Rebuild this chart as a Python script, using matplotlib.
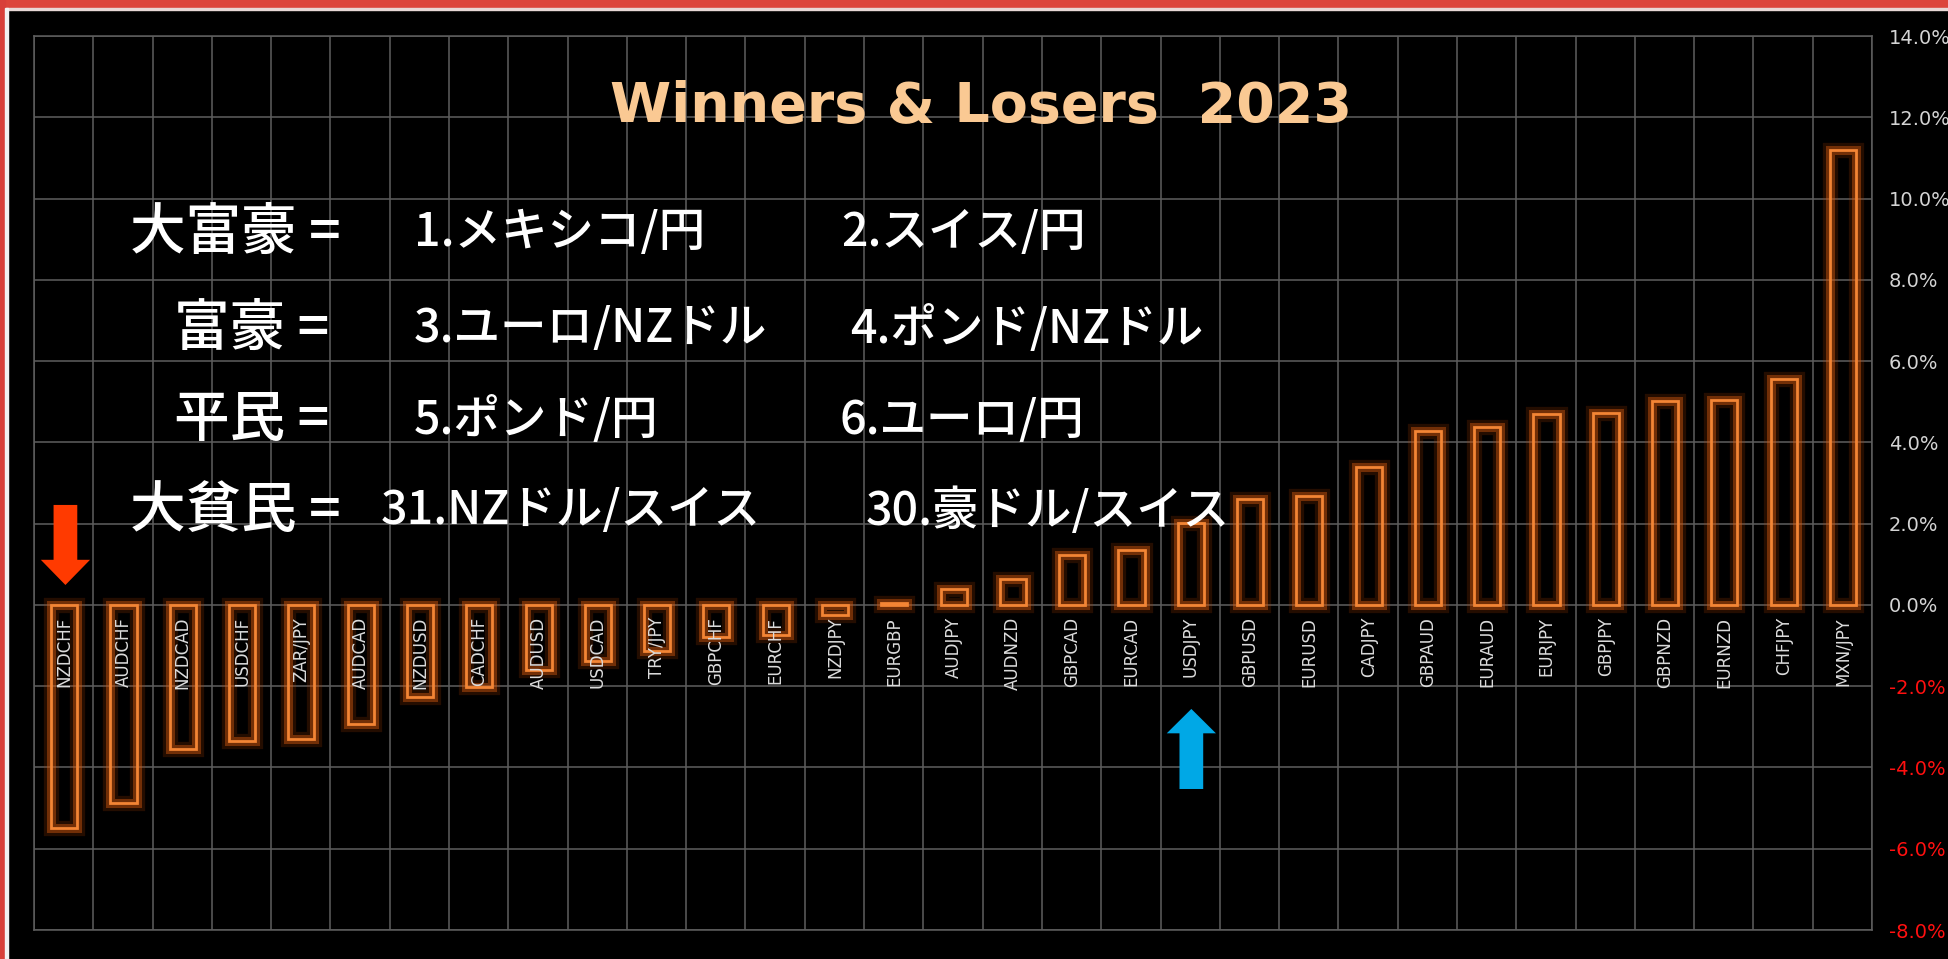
import matplotlib
matplotlib.use('Agg')
import matplotlib.pyplot as plt
import matplotlib.patheffects as pe
import matplotlib.transforms as mtransforms
from matplotlib.patches import Rectangle
import numpy as np

# %% data: 2023 yearly change per currency pair (%)
pairs = ['NZDCHF', 'AUDCHF', 'NZDCAD', 'USDCHF', 'ZAR/JPY', 'AUDCAD', 'NZDUSD', 'CADCHF',
         'AUDUSD', 'USDCAD', 'TRY/JPY', 'GBPCHF', 'EURCHF', 'NZDJPY', 'EURGBP', 'AUDJPY',
         'AUDNZD', 'GBPCAD', 'EURCAD', 'USDJPY', 'GBPUSD', 'EURUSD', 'CADJPY', 'GBPAUD',
         'EURAUD', 'EURJPY', 'GBPJPY', 'GBPNZD', 'EURNZD', 'CHFJPY', 'MXN/JPY']
changes = [-5.50, -4.87, -3.55, -3.35, -3.31, -2.92, -2.26, -2.01,
           -1.60, -1.38, -1.13, -0.80, -0.74, -0.26, 0.05, 0.39,
           0.64, 1.22, 1.34, 2.01, 2.61, 2.69, 3.40, 4.29,
           4.38, 4.71, 4.72, 5.02, 5.05, 5.57, 11.20]
y_ticks = [-8, -6, -4, -2, 0, 2, 4, 6, 8, 10, 12, 14]

title = 'Winners & Losers  2023'
rank_rows = [
    ('大富豪 =', '1.メキシコ/円', '2.スイス/円'),
    ('富豪 =', '3.ユーロ/NZドル', '4.ポンド/NZドル'),
    ('平民 =', '5.ポンド/円', '6.ユーロ/円'),
    ('大貧民 =', '31.NZドル/スイス', '30.豪ドル/スイス'),
]
down_pair = 'NZDCHF'
up_pair = 'USDJPY'

# %% figure
W, H = 1948, 959
fig = plt.figure(figsize=(W / 100, H / 100), dpi=100, facecolor='black')
ax = fig.add_axes([34 / W, 1 - 930 / H, (1872 - 34) / W, (930 - 36) / H])
ax.set_facecolor('black')

x = np.arange(len(pairs))
ax.set_xlim(-0.5, len(pairs) - 0.5)
ax.set_ylim(y_ticks[0], y_ticks[-1])

grid_c = '#5e5e5e'
ax.set_xticks(np.arange(-0.5, len(pairs)), minor=True)
ax.set_xticks([])
ax.set_yticks(y_ticks)
ax.grid(True, which='minor', axis='x', color=grid_c, lw=1.1)
ax.grid(True, which='major', axis='y', color=grid_c, lw=1.1)
ax.set_axisbelow(True)
for s in ax.spines.values():
    s.set_color(grid_c)
    s.set_linewidth(1.1)

ax.yaxis.tick_right()
ax.tick_params(axis='y', length=0, pad=12, labelsize=14)
ax.tick_params(axis='x', which='both', length=0)
ax.set_yticklabels([f'{v:.1f}%' for v in y_ticks])
for lab, v in zip(ax.get_yticklabels(), y_ticks):
    lab.set_color('#ff1010' if v < 0 else '#d4d4d4')

# glowing outlined bars
glow = [pe.Stroke(linewidth=11, foreground='#a83c00', alpha=0.22),
        pe.Stroke(linewidth=6.5, foreground='#d35a10', alpha=0.45),
        pe.Normal()]
bars = ax.bar(x + 0.01, changes, width=0.44, facecolor='none',
              edgecolor='#f38535', linewidth=2.0, zorder=3)
for b in bars:
    b.set_path_effects(glow)

# pair names under the zero line
lab_tr = mtransforms.offset_copy(ax.transData, fig=fig, y=-12, units='dots')
for xi, name in zip(x, pairs):
    ax.text(xi + 0.01, 0, name, rotation=90, ha='center', va='top', fontsize=12,
            color='#dcdcdc', transform=lab_tr, zorder=4)

# arrows on the biggest loser and on USDJPY
i_dn = pairs.index(down_pair)
ax.arrow(i_dn + 0.03, 2.46, 0, -1.97, width=0.40, head_width=0.83, head_length=0.62,
         length_includes_head=True, color='#ff3a00', lw=0, zorder=5)
i_up = pairs.index(up_pair)
ax.arrow(i_up + 0.02, -4.53, 0, 1.97, width=0.40, head_width=0.83, head_length=0.60,
         length_includes_head=True, color='#00a8e6', lw=0, zorder=5)

# %% texts
fig.text(981 / W, 1 - 107 / H, title, ha='center', va='center', fontsize=40,
         fontweight='bold', color='#fac993', family='DejaVu Sans')

jp = ['Noto Sans CJK JP', 'DejaVu Sans']
row_y = [233, 329, 420, 511]
col0_x = [130, 174, 174, 130]
col1_x = [414, 414, 414, 381]
col2_x = [841, 850, 840, 866]
for (a, b, c), yy, x0, x1, x2 in zip(rank_rows, row_y, col0_x, col1_x, col2_x):
    for s, xx, fs in ((a, x0, 40), (b, x1, 33.5), (c, x2, 33.5)):
        fig.text(xx / W, 1 - yy / H, s, ha='left', va='center', fontsize=fs,
                 color='white', family=jp, fontweight='medium')

# screenshot frame
fig.patches.append(Rectangle((0, 1 - 8 / H), 1, 8 / H, transform=fig.transFigure,
                             color='#dc453b', zorder=10))
fig.patches.append(Rectangle((0, 1 - 10 / H), 1, 2 / H, transform=fig.transFigure,
                             color='#e8d8d6', zorder=10))
fig.patches.append(Rectangle((0, 0), 5 / W, 1, transform=fig.transFigure,
                             color='#d8403a', zorder=10))
fig.patches.append(Rectangle((5 / W, 0), 3 / W, 1 - 8 / H, transform=fig.transFigure,
                             color='#f2f2f2', zorder=10))

fig.savefig('out.png', dpi=100, facecolor='black')
